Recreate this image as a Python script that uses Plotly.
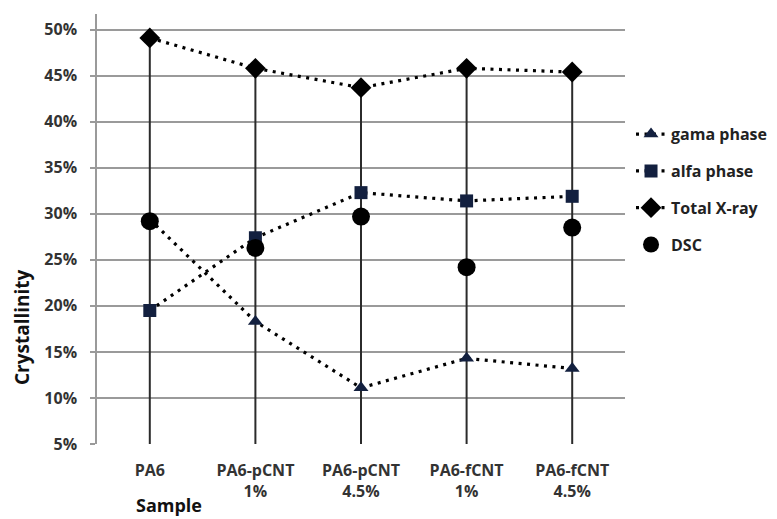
import plotly.graph_objects as go

categories = ["PA6", "PA6-pCNT<br>1%", "PA6-pCNT<br>4.5%", "PA6-fCNT<br>1%", "PA6-fCNT<br>4.5%"]
gama_phase = [29.4, 18.3, 11.1, 14.3, 13.2]
alfa_phase = [19.5, 27.4, 32.3, 31.4, 31.9]
total_xray = [49.1, 45.8, 43.7, 45.8, 45.4]
dsc = [29.2, 26.3, 29.7, 24.2, 28.5]
y_ticks = [5, 10, 15, 20, 25, 30, 35, 40, 45, 50]
y_tick_labels = [f"{t}%" for t in y_ticks]
axis_floor = 5

FONT = "Open Sans"
navy = "#13203f"
dot_line = dict(color="black", width=3.2, dash="3px,5.5px")

fig = go.Figure()

# drop lines from axis floor to top (Total X-ray) value
dx, dy = [], []
for c, t in zip(categories, total_xray):
    dx += [c, c, None]
    dy += [axis_floor, t, None]
fig.add_trace(go.Scatter(x=dx, y=dy, mode="lines", line=dict(color="#2b2b2b", width=2),
                         showlegend=False, hoverinfo="skip"))

fig.add_trace(go.Scatter(x=categories, y=gama_phase, name="gama phase", mode="lines+markers",
                         line=dot_line, marker=dict(symbol="triangle-up", size=13, color=navy),
                         legendgroup="g1"))
fig.add_trace(go.Scatter(x=categories, y=alfa_phase, name="alfa phase", mode="lines+markers",
                         line=dot_line, marker=dict(symbol="square", size=13, color=navy),
                         legendgroup="g2"))
fig.add_trace(go.Scatter(x=categories, y=total_xray, name="Total X-ray", mode="lines+markers",
                         line=dot_line, marker=dict(symbol="diamond", size=16, color="black"),
                         legendgroup="g3"))
fig.add_trace(go.Scatter(x=categories, y=dsc, name="DSC", mode="markers",
                         marker=dict(symbol="circle", size=18, color="black"),
                         legendgroup="g4"))

fig.update_layout(
    width=769, height=511,
    margin=dict(l=89, r=151, t=6, b=75),
    paper_bgcolor="white", plot_bgcolor="white",
    font=dict(family=FONT, size=16, color="#333333", weight="bold"),
    legend=dict(x=1.0095, y=0.76, xanchor="left", yanchor="top",
                font=dict(family=FONT, size=16, color="#222222", weight="bold"),
                tracegroupgap=13, itemwidth=30, bgcolor="rgba(0,0,0,0)"),
    xaxis=dict(type="category", range=[-0.5, 4.5], showgrid=False, showline=False,
               zeroline=False, ticks="", ticklabelstandoff=15,
               tickfont=dict(family=FONT, size=16, color="#333333", weight="bold")),
    yaxis=dict(range=[axis_floor, 51.7], tickvals=y_ticks, ticktext=y_tick_labels,
               showgrid=True, gridcolor="#9a9a9a", gridwidth=1.5,
               showline=True, linecolor="#9a9a9a", linewidth=1.5,
               ticks="outside", ticklen=5, tickcolor="#9a9a9a", tickwidth=1.5,
               zeroline=False, ticklabelstandoff=10,
               tickfont=dict(family=FONT, size=16, color="#333333", weight="bold")),
    showlegend=True,
)

fig.add_annotation(text="Crystallinity", xref="paper", yref="paper",
                   x=-0.142, y=0.272, xanchor="center", yanchor="middle", textangle=-90,
                   showarrow=False, font=dict(family=FONT, size=19, color="#111111", weight="bold"))
fig.add_annotation(text="Sample", xref="paper", yref="paper",
                   x=0.136, y=-0.142, xanchor="center", yanchor="middle",
                   showarrow=False, font=dict(family=FONT, size=18, color="#111111", weight="bold"))

fig.write_html("out.html")
